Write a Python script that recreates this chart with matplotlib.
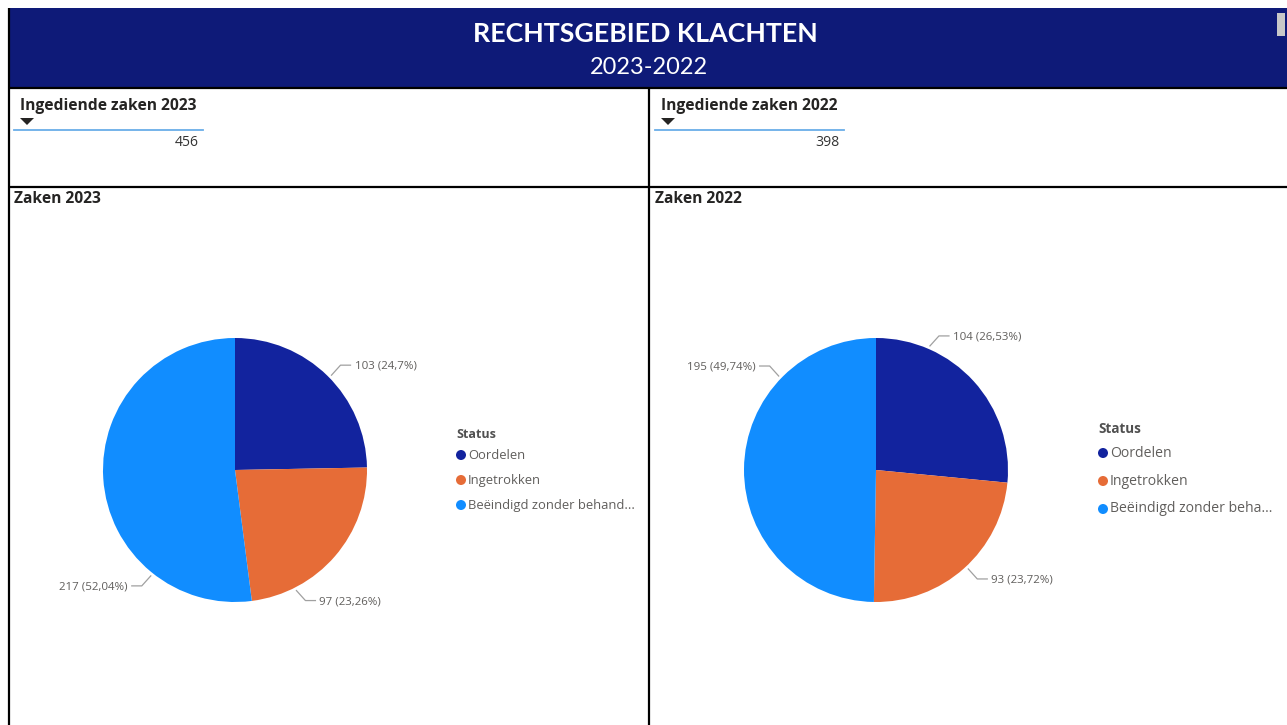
import matplotlib
matplotlib.use("Agg")
import matplotlib.pyplot as plt
from matplotlib.patches import Rectangle, Circle, Polygon
import numpy as np

# ---------------- data ----------------
title = "RECHTSGEBIED KLACHTEN"
subtitle = "2023-2022"
kpi_titles = ["Ingediende zaken 2023", "Ingediende zaken 2022"]
kpi_values = [456, 398]
chart_titles = ["Zaken 2023", "Zaken 2022"]
status_labels = ["Oordelen", "Ingetrokken", "Beëindigd zonder behandeling"]
legend_labels_2023 = ["Oordelen", "Ingetrokken", "Beëindigd zonder behand..."]
legend_labels_2022 = ["Oordelen", "Ingetrokken", "Beëindigd zonder beha..."]
values_2023 = [103, 97, 217]
values_2022 = [104, 93, 195]

# ---------------- style ----------------
colors = ["#12239E", "#E66C37", "#118DFF"]
HEADER = "#0E1A78"
W, H = 1287, 725
FONT = "Open Sans"
plt.rcParams["font.family"] = [FONT, "DejaVu Sans"]

def px(p):  # pixels -> points at dpi 100
    return p * 0.72

fig = plt.figure(figsize=(W / 100, H / 100), dpi=100)
bg = fig.add_axes([0, 0, 1, 1])
bg.set_xlim(0, W)
bg.set_ylim(H, 0)
bg.axis("off")

# header
bg.add_patch(Rectangle((8, 8), W - 8, 79, color=HEADER, lw=0))
bg.add_patch(Rectangle((1277, 13), 8, 23, color="#C8C8C8", lw=0))
bg.text(645.5, 34, title, color="white", fontsize=px(26.8), fontweight="bold",
        ha="center", va="center", family=["Lato", "DejaVu Sans"])
bg.text(649, 67, subtitle, color="white", fontsize=px(23.5),
        ha="center", va="center", family=["Lato", "DejaVu Sans"])

# frame lines
lk = dict(color="black", lw=1.6, solid_capstyle="butt")
bg.plot([8, W], [87.5, 87.5], **lk)
bg.plot([8, W], [186.5, 186.5], **lk)
bg.plot([8.5, 8.5], [8, H], **lk)
bg.plot([649, 649], [87, H], **lk)

# KPI cards
for i, (kt, kv) in enumerate(zip(kpi_titles, kpi_values)):
    x0 = 8 + i * 641
    bg.text(x0 + 12, 106, kt, fontsize=px(15.6), fontweight="bold",
            color="#252423", ha="left", va="center")
    bg.add_patch(Polygon([[x0 + 12, 118], [x0 + 26, 118], [x0 + 19, 125]],
                         closed=True, color="#252423", lw=0))
    bg.plot([x0 + 6, x0 + 195], [129.5, 129.5], color="#6AAEE8", lw=1.3)
    bg.text(x0 + 191, 142, str(kv), fontsize=px(14), color="#333333",
            ha="right", va="center")
    bg.text(x0 + 6, 199, chart_titles[i], fontsize=px(15.6), fontweight="bold",
            color="#252423", ha="left", va="center")

def fmt_pct(v, total):
    p = round(v / total * 100, 2)
    s = f"{p:.2f}".rstrip("0").rstrip(".")
    return s.replace(".", ",")

R = 132
pies = [
    dict(vals=values_2023, cx=235, cy=470, anchors=[45.5, 153, 218.5],
         leg=legend_labels_2023, lx=461, ly=433, step=25, lfs=13),
    dict(vals=values_2022, cx=876, cy=470, anchors=[23.5, 137, 314],
         leg=legend_labels_2022, lx=1103, ly=428, step=28, lfs=14),
]

for p in pies:
    ax = fig.add_axes([(p["cx"] - R) / W, (H - p["cy"] - R) / H, 2 * R / W, 2 * R / H])
    ax.pie(p["vals"], colors=colors, startangle=90, counterclock=False, radius=1,
           wedgeprops=dict(linewidth=0))
    ax.set_xlim(-1, 1)
    ax.set_ylim(-1, 1)
    ax.set_aspect("auto")
    ax.axis("off")
    total = sum(p["vals"])
    ddx = 9 / R    # diagonal leader step x
    ddy = 10 / R   # diagonal leader step y
    hz = 10 / R    # horizontal leader length
    gap = 4 / R
    for v, ang in zip(p["vals"], p["anchors"]):
        t = np.deg2rad(90 - ang)
        x0, y0 = np.cos(t) * 1.025, np.sin(t) * 1.025
        sx = 1 if x0 >= 0 else -1
        sy = 1 if y0 >= 0 else -1
        x1, y1 = x0 + sx * ddx, y0 + sy * ddy
        x2 = x1 + sx * hz
        ax.plot([x0, x1, x2], [y0, y1, y1], color="#A0A0A0", lw=0.9,
                clip_on=False)
        ax.text(x2 + sx * gap, y1 - 1 / R, f"{v} ({fmt_pct(v, total)}%)",
                fontsize=px(11.5), color="#605E5C",
                ha="left" if sx > 0 else "right", va="center", clip_on=False)

    # legend
    bg.text(p["lx"] - 5, p["ly"] + 1, "Status", fontsize=px(p["lfs"] - 0.5),
            fontweight="bold", color="#505050", ha="left", va="center")
    for k, (lab, c) in enumerate(zip(p["leg"], colors)):
        yy = p["ly"] + (k + 1) * p["step"] - 3
        bg.add_patch(Circle((p["lx"], yy), 5, color=c, lw=0))
        bg.text(p["lx"] + 7, yy, lab, fontsize=px(p["lfs"]), color="#605E5C",
                ha="left", va="center")

fig.savefig("out.png", dpi=100, facecolor="white")
